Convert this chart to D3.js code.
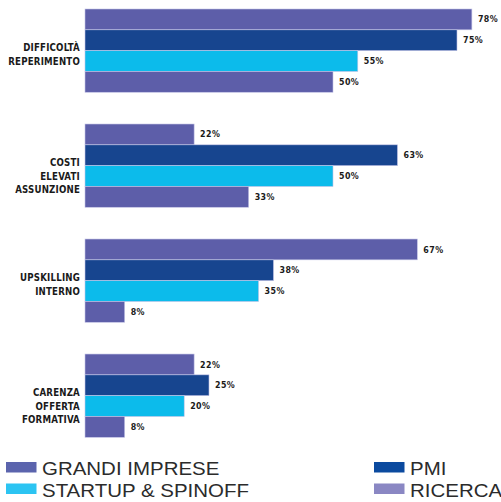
<!DOCTYPE html>
<html>
<head>
<meta charset="utf-8">
<script src="https://cdn.jsdelivr.net/npm/d3@7"></script>
<style>
  body { margin: 0; background: #fff; }
  .cat { font-family: "DejaVu Sans Condensed", "DejaVu Sans", sans-serif; font-weight: bold; font-stretch: condensed; font-size: 9.6px; letter-spacing: 0.2px; fill: #1a1a1a; }
  .val { font-family: "DejaVu Sans Condensed", "DejaVu Sans", sans-serif; font-weight: bold; font-stretch: condensed; font-size: 8.8px; letter-spacing: 0.4px; fill: #1a1a1a; }
  .leg { font-family: "Liberation Sans", Arial, sans-serif; font-size: 17.5px; fill: #2b2b2b; }
</style>
</head>
<body>
<svg id="chart"></svg>
<script>
// Data
const categories = ["DIFFICOLTÀ REPERIMENTO", "COSTI ELEVATI ASSUNZIONE", "UPSKILLING INTERNO", "CARENZA OFFERTA FORMATIVA"];
const seriesNames = ["GRANDI IMPRESE", "PMI", "STARTUP & SPINOFF", "RICERCA"];
const grandiImprese = [78, 22, 67, 22];
const pmi = [75, 63, 38, 25];
const startup = [55, 50, 35, 20];
const ricerca = [50, 33, 8, 8];

const barColors = ["#5d5ea9", "#17458f", "#0cbbeb", "#5d5ea9"];
const legendColors = ["#5b64ad", "#0b4a9f", "#2cc4f2", "#8a87c3"];

const values = [grandiImprese, pmi, startup, ricerca];
const data = categories.map((c, i) => ({
    category: c,
    values: seriesNames.map((s, j) => ({ series: s, value: values[j][i] }))
}));

const width = 501, height = 502;

const svg = d3.select("#chart")
    .attr("width", width)
    .attr("height", height);

// Scales
const xScale = d3.scaleLinear()
    .domain([0, 80])
    .range([85, 481.8]);

const yScale = d3.scaleBand()
    .domain(categories)
    .range([9, 437.3])
    .paddingInner(0.276)
    .paddingOuter(0);

const ySub = d3.scaleBand()
    .domain(seriesNames)
    .range([0, yScale.bandwidth()]);

const color = d3.scaleOrdinal().domain(seriesNames).range(barColors);

// Groups
const groups = svg.selectAll(".group")
    .data(data)
    .enter().append("g")
    .attr("class", "group")
    .attr("transform", d => `translate(0, ${yScale(d.category)})`);

// Bars
groups.selectAll("rect")
    .data(d => d.values)
    .enter().append("rect")
    .attr("x", xScale(0))
    .attr("y", d => ySub(d.series))
    .attr("width", d => xScale(d.value) - xScale(0))
    .attr("height", ySub.bandwidth())
    .attr("fill", d => color(d.series))
    .attr("stroke", "#c4c4e6")
    .attr("stroke-width", 0.6);

// Value labels
groups.selectAll(".val")
    .data(d => d.values)
    .enter().append("text")
    .attr("class", "val")
    .attr("x", d => xScale(d.value) + 6)
    .attr("y", d => ySub(d.series) + ySub.bandwidth() / 2)
    .attr("dy", "0.35em")
    .text(d => d.value + "%");

// Category labels, one word per line
groups.append("text")
    .attr("class", "cat")
    .attr("text-anchor", "end")
    .selectAll("tspan")
    .data(d => d.category.split(" "))
    .enter().append("tspan")
    .attr("x", xScale(0) - 5)
    .attr("y", (d, i) => 39 + i * 13.5)
    .attr("dy", "0.35em")
    .text(d => d);

// Legend
const legend = svg.selectAll(".legend")
    .data(seriesNames)
    .enter().append("g")
    .attr("class", "legend")
    .attr("transform", (d, i) => `translate(${i % 2 === 0 ? 6 : 374}, ${462 + Math.floor(i / 2) * 21.5})`);

legend.append("rect")
    .attr("width", 30.5)
    .attr("height", 10.5)
    .attr("fill", (d, i) => legendColors[i]);

legend.append("text")
    .attr("class", "leg")
    .attr("transform", "translate(36, 13) scale(1.17, 1)")
    .text(d => d);
</script>
</body>
</html>
